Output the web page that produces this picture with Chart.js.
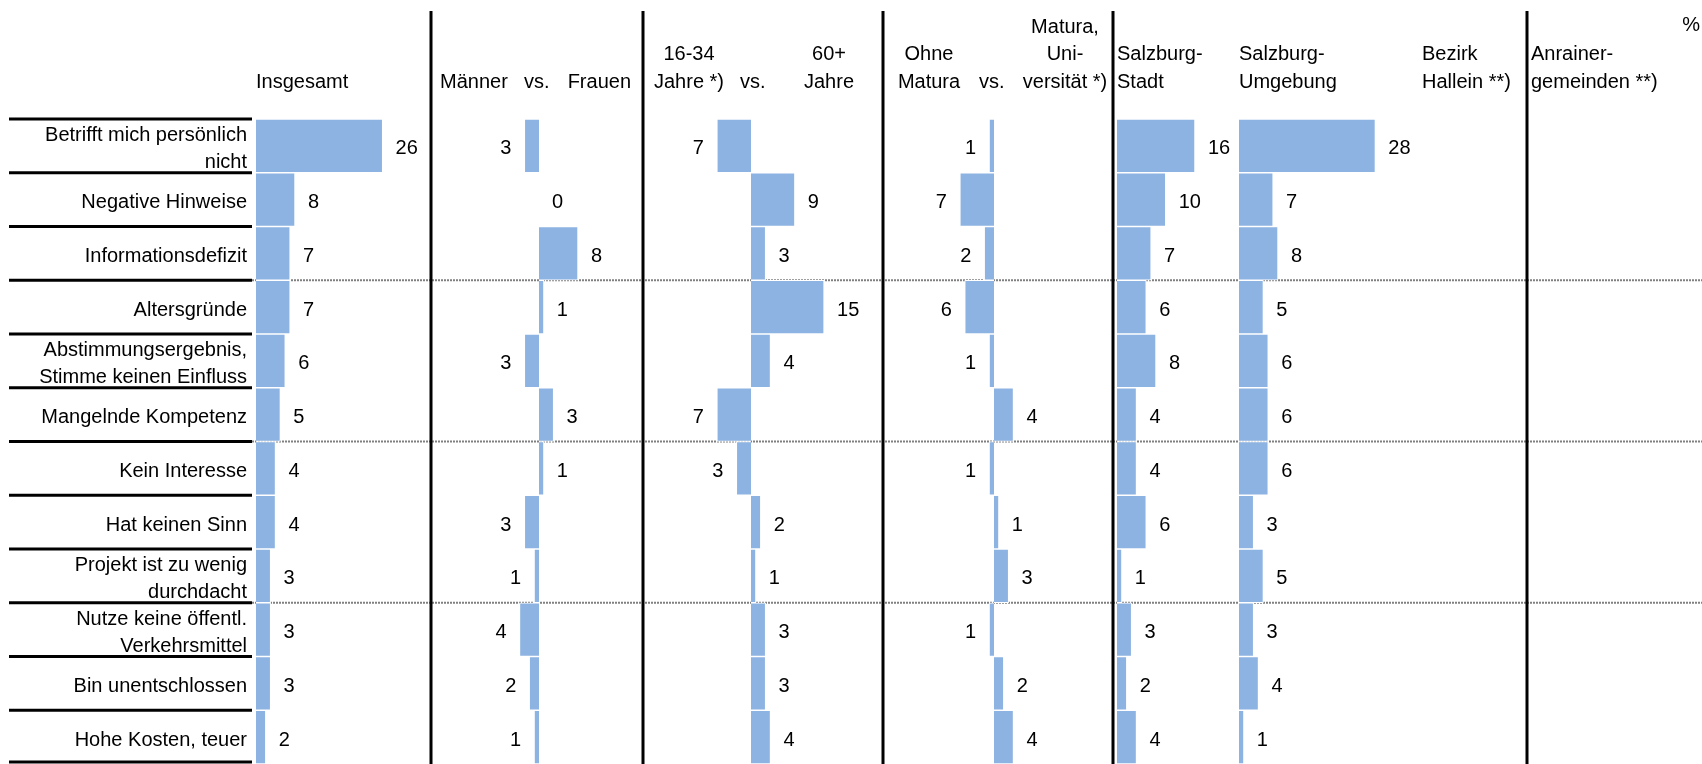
<!DOCTYPE html>
<html>
<head>
<meta charset="utf-8">
<script src="https://cdn.jsdelivr.net/npm/chart.js@4/dist/chart.umd.min.js"></script>
<style>
  html, body { margin: 0; padding: 0; background: #fff; }
  canvas { display: block; }
</style>
</head>
<body>
<canvas id="reasonsChart" width="1702" height="764"></canvas>
<script>
// Gründe - Angaben in Prozent
const categories = [
    ['Betrifft mich persönlich', 'nicht'],
    'Negative Hinweise',
    'Informationsdefizit',
    'Altersgründe',
    ['Abstimmungsergebnis,', 'Stimme keinen Einfluss'],
    'Mangelnde Kompetenz',
    'Kein Interesse',
    'Hat keinen Sinn',
    ['Projekt ist zu wenig', 'durchdacht'],
    ['Nutze keine öffentl.', 'Verkehrsmittel'],
    'Bin unentschlossen',
    'Hohe Kosten, teuer'
];

const insgesamt = [26, 8, 7, 7, 6, 5, 4, 4, 3, 3, 3, 2];
// differences: negative = first group higher (bar to the left), positive = second group
const maennerVsFrauen = [-3, 0, 8, 1, -3, 3, 1, -3, -1, -4, -2, -1];
const jungVsAlt = [-7, 9, 3, 15, 4, -7, -3, 2, 1, 3, 3, 4];
const ohneVsMitMatura = [-1, -7, -2, -6, -1, 4, -1, 1, 3, -1, 2, 4];
const salzburgStadt = [16, 10, 7, 6, 8, 4, 4, 6, 1, 3, 2, 4];
const salzburgUmgebung = [28, 7, 8, 5, 6, 6, 6, 3, 5, 3, 4, 1];

const headerInsgesamt = ['Insgesamt'];
const headerSex = [['Männer'], ['vs.'], ['Frauen']];
const headerAge = [['16-34', 'Jahre *)'], ['vs.'], ['60+', 'Jahre']];
const headerEdu = [['Ohne', 'Matura'], ['vs.'], ['Matura,', 'Uni-', 'versität *)']];
const headerStadt = ['Salzburg-', 'Stadt'];
const headerUmgebung = ['Salzburg-', 'Umgebung'];
const headerHallein = ['Bezirk', 'Hallein **)'];
const headerAnrainer = ['Anrainer-', 'gemeinden **)'];
const unitLabel = '%';

const FONT = "'Liberation Sans', Arial, sans-serif";
const BAR_COLOR = '#8DB3E2';
const AREA_LEFT = 256;
const AREA_RIGHT = 1702;
const PX_PER_UNIT = 4.87;

// each panel gets its own hidden x scale, zero placed at the panel origin
function span(origin) {
    return {
        min: -(origin - AREA_LEFT) / PX_PER_UNIT,
        max: (AREA_RIGHT - origin) / PX_PER_UNIT
    };
}

function xScale(origin) {
    const s = span(origin);
    return { type: 'linear', axis: 'x', display: false, min: s.min, max: s.max, grid: { display: false } };
}

function barSet(label, data, axisId) {
    return {
        label: label,
        data: data,
        xAxisID: axisId,
        grouped: false,
        backgroundColor: BAR_COLOR,
        borderColor: '#ffffff',
        borderWidth: 1,
        barPercentage: 1,
        categoryPercentage: 1
    };
}

const decorPlugin = {
    id: 'decor',
    beforeDatasetsDraw(chart) {
        const ctx = chart.ctx;
        const area = chart.chartArea;
        const rowH = (area.bottom - area.top) / categories.length;
        ctx.save();
        // dotted group separators
        ctx.strokeStyle = '#808080';
        ctx.lineWidth = 2;
        ctx.setLineDash([2, 1]);
        [3, 6, 9].forEach(k => {
            const y = area.top + k * rowH;
            ctx.beginPath();
            ctx.moveTo(252, y);
            ctx.lineTo(area.right, y);
            ctx.stroke();
        });
        ctx.restore();
    },
    afterDatasetsDraw(chart) {
        const ctx = chart.ctx;
        const area = chart.chartArea;
        const rowH = (area.bottom - area.top) / categories.length;
        ctx.save();

        // value labels
        ctx.font = '20px ' + FONT;
        ctx.fillStyle = '#000';
        ctx.textBaseline = 'middle';
        chart.data.datasets.forEach((ds, i) => {
            chart.getDatasetMeta(i).data.forEach((bar, j) => {
                const v = ds.data[j];
                if (v === null || v === undefined) return;
                if (v < 0) {
                    ctx.textAlign = 'right';
                    ctx.fillText(String(Math.abs(v)), bar.x - 13, bar.y + 3);
                } else {
                    ctx.textAlign = 'left';
                    ctx.fillText(String(v), bar.x + 13, bar.y + 3);
                }
            });
        });

        // black lines in label column
        ctx.strokeStyle = '#000';
        ctx.lineWidth = 3;
        for (let k = 0; k <= categories.length; k++) {
            const y = Math.min(area.top + k * rowH, chart.height - 2);
            ctx.beginPath();
            ctx.moveTo(9, y);
            ctx.lineTo(252, y);
            ctx.stroke();
        }

        // vertical panel dividers
        [431, 643, 883, 1113, 1527].forEach(x => {
            ctx.beginPath();
            ctx.moveTo(x, 11);
            ctx.lineTo(x, chart.height);
            ctx.stroke();
        });

        // panel headers, bottom line at y = 82
        const lineGap = 27.5;
        function block(lines, x, align) {
            ctx.textAlign = align;
            lines.forEach((t, n) => {
                ctx.fillText(t, x, 82 - (lines.length - 1 - n) * lineGap);
            });
        }
        block(headerInsgesamt, 256, 'left');
        block(headerSex[0], 440, 'left');
        block(headerSex[1], 524, 'left');
        block(headerSex[2], 631, 'right');
        block(headerAge[0], 689, 'center');
        block(headerAge[1], 740, 'left');
        block(headerAge[2], 829, 'center');
        block(headerEdu[0], 929, 'center');
        block(headerEdu[1], 979, 'left');
        block(headerEdu[2], 1065, 'center');
        block(headerStadt, 1117, 'left');
        block(headerUmgebung, 1239, 'left');
        block(headerHallein, 1422, 'left');
        block(headerAnrainer, 1531, 'left');
        ctx.textAlign = 'right';
        ctx.fillText(unitLabel, 1700, 25);
        ctx.restore();
    }
};

const ctx = document.getElementById('reasonsChart').getContext('2d');
const reasonsChart = new Chart(ctx, {
    type: 'bar',
    data: {
        labels: categories,
        datasets: [
            barSet('Insgesamt', insgesamt, 'xTot'),
            barSet('Männer vs. Frauen', maennerVsFrauen, 'xSex'),
            barSet('16-34 vs. 60+ Jahre', jungVsAlt, 'xAge'),
            barSet('Ohne Matura vs. Matura, Universität', ohneVsMitMatura, 'xEdu'),
            barSet('Salzburg-Stadt', salzburgStadt, 'xCity'),
            barSet('Salzburg-Umgebung', salzburgUmgebung, 'xSurr')
        ]
    },
    options: {
        indexAxis: 'y',
        responsive: false,
        animation: false,
        layout: { padding: { top: 119, left: 0, right: 0, bottom: 0 } },
        plugins: {
            legend: { display: false },
            tooltip: { enabled: false }
        },
        scales: {
            y: {
                type: 'category',
                position: 'left',
                grid: { display: false, drawTicks: false },
                border: { display: false },
                ticks: {
                    color: '#000',
                    padding: 9,
                    labelOffset: 3,
                    autoSkip: false,
                    font: { family: FONT, size: 20, lineHeight: 1.35 }
                },
                afterFit(scale) {
                    scale.width = AREA_LEFT;
                    // rows fill the whole height, labels need no extra room
                    scale.paddingTop = 0;
                    scale.paddingBottom = 0;
                }
            },
            xTot: xScale(256),
            xSex: xScale(539),
            xAge: xScale(751),
            xEdu: xScale(994),
            xCity: xScale(1117),
            xSurr: xScale(1239)
        }
    },
    plugins: [decorPlugin]
});
</script>
</body>
</html>
